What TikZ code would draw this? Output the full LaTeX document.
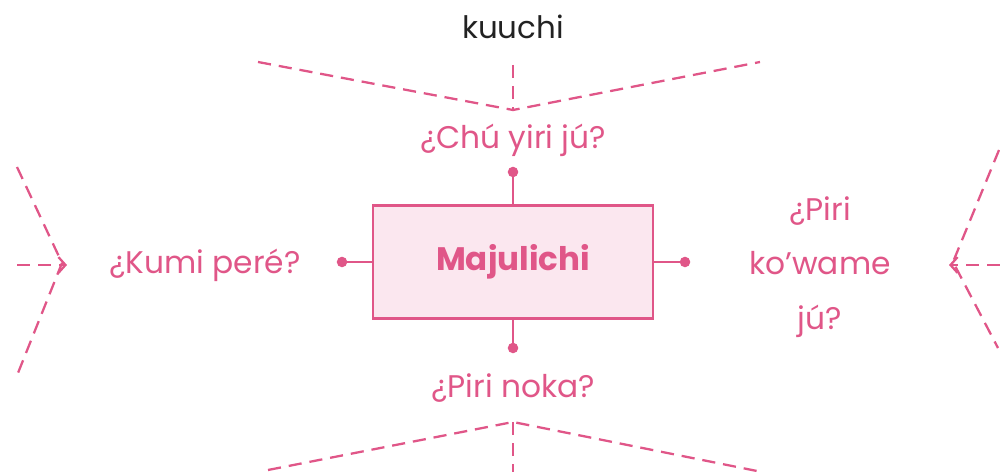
\documentclass[tikz,border=0pt]{standalone}
\usepackage{fontspec}
\setmainfont{Poppins}
\usetikzlibrary{arrows.meta,positioning}
\definecolor{rosa}{RGB}{224,86,136}
\definecolor{rosafill}{RGB}{251,231,239}
\definecolor{tinta}{RGB}{34,34,34}

\begin{document}
\begin{tikzpicture}[x=0.02cm,y=-0.02cm,
				lbl/.style={text=rosa,font=\fontsize{17.8}{31}\selectfont},
				dot/.style={circle,fill=rosa,inner sep=0pt,minimum size=6pt},
				box/.style={draw=rosa,fill=rosafill,line width=1.2pt,minimum width=5.6cm,minimum height=2.26cm},
				ln/.style={draw=rosa,line width=1.2pt},
				dsh/.style={draw=rosa,line width=1.3pt,dash pattern=on 7.5pt off 4.5pt},
				tip/.style={-{Straight Barb[length=4pt,width=9pt]}}]
			\useasboundingbox (0,0) rectangle (1000,472);
			% centre
			\node [box] (majul) at (513,262) {\fontsize{18.5}{22}\selectfont\bfseries\color{rosa}Majulichi};
			\node [dot] (dn) at (513,172) {};
			\node [dot] (dw) at (342,262) {};
			\node [dot] (de) at (685,262) {};
			\node [dot] (ds) at (513,348) {};
			\draw [ln] (dn.center) -- (majul.north);
			\draw [ln] (dw.center) -- (majul.west);
			\draw [ln] (de.center) -- (majul.east);
			\draw [ln] (ds.center) -- (majul.south);
			% questions
			\node [lbl] (chu) at (513,140) {¿Chú yiri jú?};
			\node [lbl] (kumi) at (205,265) {¿Kumi peré?};
			\node [lbl,align=center] (piri) at (820,267) {¿Piri\\ko'wame\\jú?};
			\node [lbl] (noka) at (513,388) {¿Piri noka?};
			\node [text=tinta,font=\fontsize{17.6}{20}\selectfont] (kuuchi) at (513,27) {kuuchi};
			% top
			\coordinate (tapex) at (513,110);
			\coordinate (tl) at (258,62);
			\coordinate (tr) at (760,62);
			\coordinate (tv) at (513,65);
			\draw [dsh] (tl) -- (tapex) -- (tr);
			\draw [dsh] (tv) -- (tapex);
			% bottom
			\coordinate (bapex) at (513,422);
			\coordinate (bl) at (268,470);
			\coordinate (br) at (762,472);
			\coordinate (bv) at (513,472);
			\draw [dsh] (bl) -- (bapex) -- (br);
			\draw [dsh] (bapex) -- (bv);
			% left
			\coordinate (lapex) at (62,263);
			\coordinate (lt) at (17,167);
			\coordinate (lb) at (18,373);
			\coordinate (lh) at (17,265);
			\draw [dsh] (lt) -- (lapex) -- (lb);
			\draw [dsh,tip] (lh) -- (67,265);
			% right
			\coordinate (rapex) at (953,262);
			\coordinate (rt) at (999,150);
			\coordinate (rb) at (998,348);
			\coordinate (rh) at (1000,265);
			\draw [dsh] (rt) -- (rapex) -- (rb);
			\draw [dsh,tip] (rh) -- (949,265);
		\end{tikzpicture}
\end{document}
